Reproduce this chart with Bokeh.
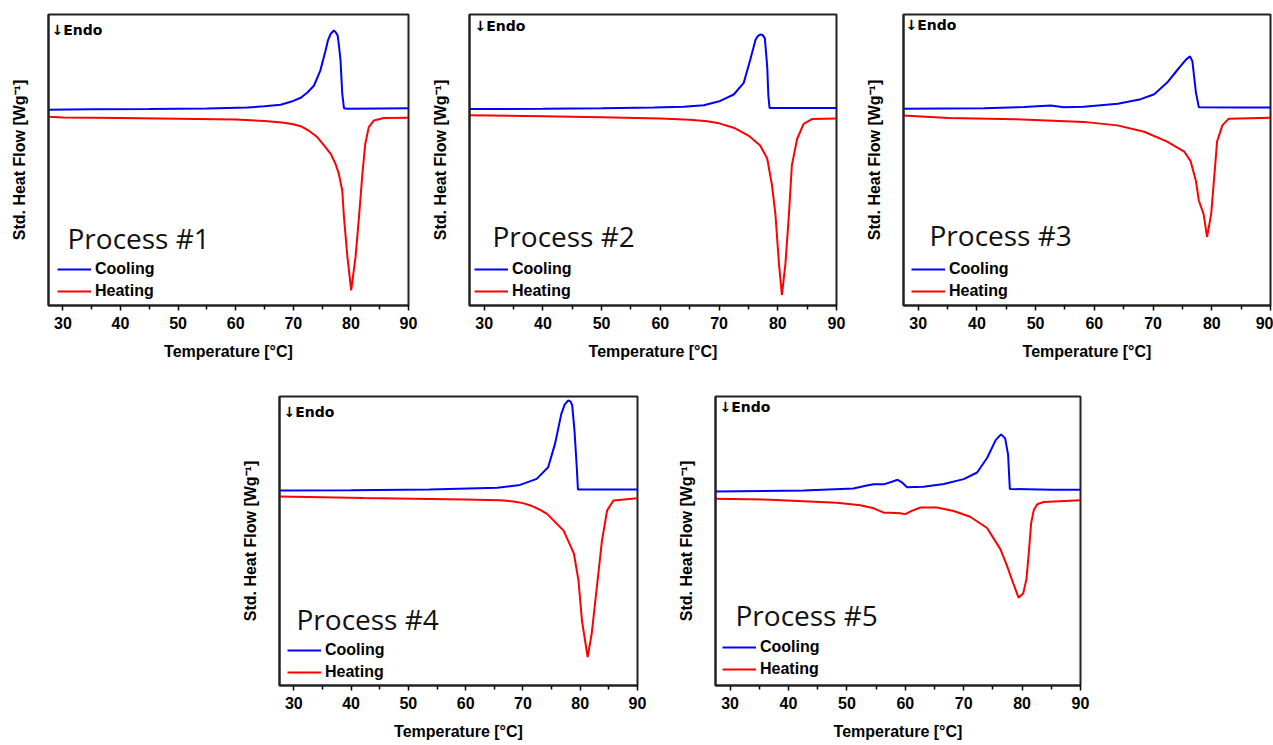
from bokeh.plotting import figure
from bokeh.layouts import row, column, Spacer
from bokeh.models import Range1d, FixedTicker, Label, Legend, LegendItem
from bokeh.embed import file_html
from bokeh.resources import INLINE

# ---------------- data (temperature in °C, heat flow in arbitrary units) ----------------
p1_cool_T = [27.5, 35, 45, 55, 62, 65, 67.8, 70, 71.3, 72.5, 73.6, 74.7, 75.6, 76.0, 76.5, 77.05, 77.3, 77.7, 77.9, 78.2, 78.5, 78.8, 79.4, 85, 90]
p1_cool_Y = [67.3, 67.4, 67.5, 67.7, 68.0, 68.5, 69.0, 70.3, 71.4, 73.3, 75.6, 80.8, 87.6, 91.0, 93.4, 94.5, 94.1, 92.8, 89.7, 84.2, 72.7, 67.8, 67.6, 67.7, 67.8]
p1_heat_T = [27.5, 30, 40, 50, 60, 65, 68, 69.8, 71.3, 72.6, 74.2, 75.5, 76.5, 77.3, 77.9, 78.5, 78.8, 79.4, 80.05, 80.8, 81.4, 82.0, 82.5, 83.1, 84.0, 85.7, 90]
p1_heat_Y = [64.9, 64.6, 64.4, 64.2, 63.9, 63.4, 62.9, 62.4, 61.6, 60.2, 57.8, 54.6, 52.1, 48.8, 45.3, 39.5, 30.3, 16.6, 5.2, 16.6, 30.3, 45.3, 55.6, 61.3, 63.6, 64.4, 64.5]

p2_cool_T = [27.5, 40, 50, 58.9, 64, 67.4, 70.2, 72.5, 74.2, 75.3, 76.2, 76.6, 77.0, 77.4, 77.8, 78.2, 78.4, 78.6, 85, 90]
p2_cool_Y = [67.5, 67.6, 67.8, 68.0, 68.3, 68.8, 70.3, 72.5, 76.5, 84.4, 91.2, 92.6, 93.1, 93.0, 91.8, 82.1, 72.0, 67.9, 67.9, 67.9]
p2_heat_T = [27.5, 40, 50, 60, 65, 68, 70, 72.5, 75, 77, 78.2, 79.0, 79.6, 80.2, 80.7, 81.3, 81.9, 82.4, 83.3, 84.4, 85.9, 90]
p2_heat_Y = [65.4, 65.0, 64.7, 64.3, 63.8, 63.3, 62.6, 61.1, 58.4, 55.0, 50.5, 41.5, 31.3, 14.3, 3.6, 14.3, 31.3, 48.2, 57.3, 62.4, 64.1, 64.3]

p3_cool_T = [27.4, 41.2, 48, 52.6, 54.8, 58.2, 64, 67.9, 70.2, 72.4, 74.2, 75.6, 76.3, 76.7, 77.3, 77.8, 85, 90]
p3_cool_Y = [67.6, 67.8, 68.2, 68.7, 68.1, 68.3, 69.3, 70.9, 72.6, 76.6, 81.1, 84.5, 85.6, 83.9, 73.2, 68.1, 68.0, 68.0]
p3_heat_T = [27.4, 35.2, 46.7, 58.2, 63.9, 68.5, 72.4, 75.3, 76.4, 77.3, 77.8, 78.6, 79.2, 79.9, 80.5, 80.9, 81.8, 82.9, 90]
p3_heat_Y = [65.3, 64.4, 64.0, 63.1, 61.9, 59.7, 56.3, 52.9, 49.6, 42.8, 36.0, 31.5, 23.6, 31.5, 46.2, 56.3, 61.9, 64.2, 64.5]

p4_cool_T = [27.5, 40, 53.7, 65.5, 69.5, 72.4, 74.4, 75.6, 76.7, 77.3, 77.9, 78.3, 78.6, 79.0, 79.4, 79.6, 85, 90]
p4_cool_Y = [67.5, 67.6, 67.8, 68.4, 69.4, 71.5, 75.5, 83.6, 94.0, 97.3, 98.6, 98.3, 96.9, 88.2, 75.5, 67.8, 67.8, 67.8]
p4_heat_T = [27.5, 42.2, 59.7, 66.0, 68.4, 70.0, 71.3, 72.8, 74.2, 77.1, 78.9, 79.7, 80.3, 81.3, 82.0, 82.9, 83.8, 84.7, 85.8, 90]
p4_heat_Y = [65.4, 64.9, 64.4, 64.1, 63.7, 63.1, 62.3, 61.0, 59.4, 53.6, 45.6, 36.3, 22.5, 9.8, 17.9, 34.0, 50.2, 60.6, 64.0, 64.8]

p5_cool_T = [27.4, 42.6, 51.1, 53.4, 54.6, 56.3, 57.7, 58.7, 59.4, 60.3, 63.1, 66.6, 70.0, 72.3, 74.0, 75.5, 76.4, 77.1, 77.6, 77.9, 85, 90]
p5_cool_Y = [67.1, 67.5, 68.2, 69.2, 69.6, 69.6, 70.5, 71.2, 70.3, 68.6, 68.8, 69.7, 71.4, 73.7, 78.7, 85.0, 86.9, 85.5, 79.9, 68.0, 67.7, 67.7]
p5_heat_T = [27.4, 36.9, 48.3, 52.3, 54.6, 56.3, 57.4, 59.1, 60.0, 61.1, 62.6, 65.4, 68.3, 71.1, 74.0, 76.3, 77.4, 78.6, 79.4, 80.2, 80.75, 81.15, 81.55, 82.0, 82.6, 83.7, 90]
p5_heat_Y = [64.6, 64.3, 63.2, 62.4, 61.3, 59.8, 59.8, 59.6, 59.3, 60.4, 61.6, 61.6, 60.4, 58.4, 54.5, 47.1, 41.5, 34.7, 30.4, 31.9, 36.9, 46.0, 56.2, 60.7, 62.7, 63.5, 64.1]

titles = ["Process #1", "Process #2", "Process #3", "Process #4", "Process #5"]
series_labels = ["Cooling", "Heating"]
x_major = [30, 40, 50, 60, 70, 80, 90]
x_minor = [35, 45, 55, 65, 75, 85]

BOLD_FONT = "Liberation Sans"
COOL_COLOR = "#0000ff"
HEAT_COLOR = "#ff0000"


def make_panel(title, cT, cY, hT, hY, width, height, bl, br, bt, bb,
               leg_xy, title_xy, endo_xy):
    p = figure(width=width, height=height,
               min_border_left=bl, min_border_right=br,
               min_border_top=bt, min_border_bottom=bb,
               x_range=Range1d(27.5, 90), y_range=Range1d(0, 100),
               output_backend="svg", toolbar_location=None)
    p.grid.visible = False
    p.outline_line_color = "#222222"
    p.outline_line_width = 2
    p.outline_line_alpha = 1

    rc = p.line(cT, cY, line_color=COOL_COLOR, line_width=2)
    rh = p.line(hT, hY, line_color=HEAT_COLOR, line_width=2)

    xa = p.xaxis[0]
    xa.ticker = FixedTicker(ticks=x_major, minor_ticks=x_minor)
    xa.axis_label = "Temperature [°C]"
    xa.axis_label_text_font = BOLD_FONT
    xa.axis_label_text_font_style = "bold"
    xa.axis_label_text_font_size = "16px"
    xa.axis_label_text_color = "black"
    xa.axis_label_standoff = 11
    xa.major_label_text_font = BOLD_FONT
    xa.major_label_text_font_style = "bold"
    xa.major_label_text_font_size = "16px"
    xa.major_label_text_color = "black"
    xa.major_label_standoff = 6
    xa.major_tick_in = 0
    xa.major_tick_out = 5
    xa.minor_tick_in = 0
    xa.minor_tick_out = 4
    xa.axis_line_width = 2
    xa.axis_line_color = "#222222"
    xa.major_tick_line_width = 1.5
    xa.minor_tick_line_width = 1.5

    ya = p.yaxis[0]
    ya.ticker = FixedTicker(ticks=[], minor_ticks=[])
    ya.axis_label = "Std. Heat Flow [Wg⁻¹]"
    ya.axis_label_text_font = BOLD_FONT
    ya.axis_label_text_font_style = "bold"
    ya.axis_label_text_font_size = "16px"
    ya.axis_label_text_color = "black"
    ya.axis_label_standoff = 21
    ya.major_tick_in = 0
    ya.major_tick_out = 0
    ya.axis_line_width = 2
    ya.axis_line_color = "#222222"

    legend = Legend(items=[LegendItem(label=series_labels[0], renderers=[rc]),
                           LegendItem(label=series_labels[1], renderers=[rh])],
                    location=leg_xy, orientation="vertical",
                    glyph_width=34, glyph_height=20, label_height=20,
                    label_standoff=4, spacing=2, padding=0, margin=0,
                    border_line_alpha=0, background_fill_alpha=0,
                    label_text_font=BOLD_FONT, label_text_font_style="bold",
                    label_text_font_size="16px", label_text_color="black")
    p.add_layout(legend)

    p.add_layout(Label(x=title_xy[0], y=title_xy[1], x_units="screen", y_units="screen",
                       text=title, text_font="Open Sans", text_font_size="28px",
                       text_color="#111111", text_baseline="alphabetic"))
    p.add_layout(Label(x=endo_xy[0], y=endo_xy[1], x_units="screen", y_units="screen",
                       text="↓Endo", text_font="DejaVu Sans", text_font_style="bold",
                       text_font_size="14px", text_color="black",
                       text_baseline="alphabetic"))
    return p


# row 1: height 368 ; row 2: height 376
p1 = make_panel(titles[0], p1_cool_T, p1_cool_Y, p1_heat_T, p1_heat_Y,
                420, 368, 48, 12, 14, 63, (9, 4), (19, 68), (3, 291 - 15))
p2 = make_panel(titles[1], p2_cool_T, p2_cool_Y, p2_heat_T, p2_heat_Y,
                435, 368, 49, 19, 14, 59, (5, 4), (23, 70), (5, 295 - 15))
p3 = make_panel(titles[2], p3_cool_T, p3_cool_Y, p3_heat_T, p3_heat_Y,
                418, 368, 48, 3, 14, 58, (8, 4), (26, 71), (2, 296 - 15))
p4 = make_panel(titles[3], p4_cool_T, p4_cool_Y, p4_heat_T, p4_heat_Y,
                434, 376, 43, 33, 28, 59, (8, 3), (17, 67), (4, 289 - 15))
p5 = make_panel(titles[4], p5_cool_T, p5_cool_Y, p5_heat_T, p5_heat_Y,
                425, 376, 45, 15, 26, 55, (7, 6), (20, 71), (4, 295 - 16))

layout = column(row(p1, p2, p3), row(Spacer(width=236, height=376), p4, p5))

open("out.html", "w").write(file_html(layout, INLINE))
